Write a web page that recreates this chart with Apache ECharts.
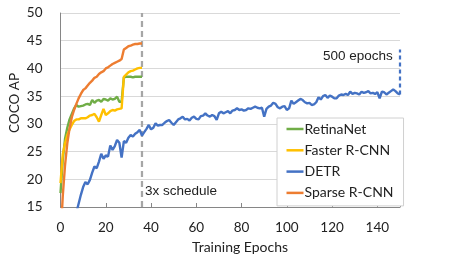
<!DOCTYPE html>
<html><head><meta charset="utf-8">
<script src="https://cdn.jsdelivr.net/npm/echarts@6/dist/echarts.min.js"></script>
<style>html,body{margin:0;padding:0;background:#fff}#c{width:457px;height:263px}</style>
</head><body><div id="c"></div>
<script>
// ---- data ----
const seriesNames = ['RetinaNet', 'Faster R-CNN', 'DETR', 'Sparse R-CNN'];
const shortEpochs = [0,1,2,3,4,5,6,7,8,9,10,11,12,13,14,15,16,17,18,19,20,21,22,23,24,25,26,27,28,29,30,31,32,33,34,35,36];
const retinaAP = [17.5,23.5,27.3,29.3,30.8,31.8,32.8,33.4,33.1,33.2,33.3,33.5,33.6,33.4,34.3,33.8,34.2,34.3,34.0,34.5,34.4,34.2,34.6,34.4,34.5,34.9,34.0,34.0,38.4,38.5,38.5,38.5,38.4,38.5,38.5,38.5,38.5];
const fasterAP = [19.3,24.5,26.5,28.0,29.0,29.8,30.5,30.8,30.8,31.0,31.0,31.0,31.2,31.5,31.6,31.8,31.2,30.4,31.6,32.7,31.6,31.9,32.3,32.5,32.4,32.6,32.7,32.8,38.5,38.9,39.3,39.5,39.6,39.8,40.0,40.1,40.1];
const sparseAP = [9.0,17.0,22.5,26.5,29.2,31.2,32.5,33.6,34.6,35.4,36.1,36.4,36.9,37.4,37.8,38.3,38.5,39.0,39.3,39.5,40.0,40.2,40.5,40.8,41.0,41.2,41.4,41.7,43.4,43.7,44.0,44.1,44.3,44.4,44.4,44.5,44.5];
const detrEpochs = [6,7,8,9,10,11,12,13,14,15,16,17,18,19,20,21,22,23,24,25,26,27,28,29,30,31,32,33,34,35,36,37,38,39,40,41,42,43,44,45,46,47,48,49,50,51,52,53,54,55,56,57,58,59,60,61,62,63,64,65,66,67,68,69,70,71,72,73,74,75,76,77,78,79,80,81,82,83,84,85,86,87,88,89,90,91,92,93,94,95,96,97,98,99,100,101,102,103,104,105,106,107,108,109,110,111,112,113,114,115,116,117,118,119,120,121,122,123,124,125,126,127,128,129,130,131,132,133,134,135,136,137,138,139,140,141,142,143,144,145,146,147,148,149,150];
const detrAP = [12.5,14.0,15.6,17.2,18.6,19.5,19.1,19.9,21.2,22.3,22.0,23.2,24.6,23.7,24.3,24.1,26.1,25.3,26.0,27.1,26.6,23.9,26.9,26.6,27.5,28.0,27.7,28.2,28.5,28.9,27.9,28.5,29.1,29.8,29.0,29.3,30.1,29.7,29.8,29.8,30.2,30.5,30.7,30.2,29.8,30.3,30.8,31.0,31.3,30.8,30.9,30.6,31.1,31.3,30.9,30.8,31.4,31.5,31.9,31.5,31.3,31.6,31.4,30.7,31.9,32.2,31.9,32.1,32.3,31.9,32.4,32.5,32.8,32.5,32.6,32.4,32.5,32.8,32.7,32.9,33.1,32.9,32.8,32.9,31.3,32.7,33.1,33.3,33.8,33.6,33.0,32.8,33.1,33.2,32.5,32.8,34.2,33.6,33.9,34.2,34.5,34.3,33.9,33.7,33.8,33.4,33.5,33.9,34.8,34.4,35.0,35.2,34.7,35.1,34.9,34.6,34.6,35.1,35.3,35.2,35.4,35.2,35.8,35.4,35.6,35.5,35.3,35.8,35.6,35.7,35.9,35.5,35.6,35.4,35.7,34.6,35.8,35.7,35.3,35.6,35.9,36.2,35.9,35.5,35.3];
const scheduleEpoch = 36;
const detr500Epoch = 150;
const detr500Range = [35.3, 43.4];
const yTicks = [15,20,25,30,35,40,45,50];
const xTicks = [0,20,40,60,80,100,120,140];

// ---- chart ----
const colors = {'RetinaNet':'#70AD47','Faster R-CNN':'#FFC000','DETR':'#4472C4','Sparse R-CNN':'#ED7D31'};
const zip = (xs, ys) => xs.map((x, i) => [x, ys[i]]);
const font = 'Lato';
const lineSeries = (name, xs, ys) => ({
  name, type: 'line', data: zip(xs, ys), symbol: 'none', clip: true,
  lineStyle: {color: colors[name], width: 2.4}, itemStyle: {color: colors[name]},
  emphasis: {disabled: true}, silent: true, animation: false
});
const chart = echarts.init(document.getElementById('c'), null, {renderer: 'canvas'});
chart.setOption({
  animation: false,
  backgroundColor: '#fff',
  grid: {left: 60.5, right: 57, top: 13, bottom: 56},
  xAxis: {
    type: 'value', min: 0, max: 150, interval: 20,
    axisLine: {show: true, lineStyle: {color: '#868686', width: 1}},
    axisTick: {show: true, inside: true, length: 4, lineStyle: {color: '#868686'}},
    axisLabel: {color: '#222', fontFamily: font, fontSize: 13.5, margin: 14,
      formatter: v => xTicks.includes(v) ? String(v) : ''},
    splitLine: {show: false}
  },
  yAxis: {
    type: 'value', min: 15, max: 50, interval: 5,
    axisLine: {show: true, lineStyle: {color: '#868686', width: 1}},
    axisTick: {show: false},
    axisLabel: {color: '#222', fontFamily: font, fontSize: 13.5, margin: 18,
      formatter: v => yTicks.includes(v) ? String(v) : ''},
    splitLine: {show: true, lineStyle: {color: '#d9d9d9', width: 1}}
  },
  legend: {
    data: seriesNames, orient: 'vertical', left: 277, top: 118,
    width: 123, itemWidth: 17, itemHeight: 2.5, icon: 'rect', itemGap: 5.3,
    padding: [3, 10, 5, 9.5], backgroundColor: '#fff', borderColor: '#d0d0d0', borderWidth: 1,
    textStyle: {color: '#222', fontFamily: font, fontSize: 14, lineHeight: 16, padding: [0,0,0,-4]}
  },
  graphic: [
    {type: 'text', left: 145, top: 184, style: {text: '3x schedule', font: '13.5px "Liberation Sans"', fill: '#222'}, silent: true},
    {type: 'text', left: 323, top: 49, style: {text: '500 epochs', font: '13.5px "Liberation Sans"', fill: '#222'}, silent: true},
    {type: 'text', x: 240, y: 247.5, style: {text: 'Training Epochs', font: '14px Lato', fill: '#222', align: 'center', verticalAlign: 'middle'}, silent: true},
    {type: 'text', x: 14.5, y: 103, rotation: Math.PI / 2, style: {text: 'COCO AP', font: '13.5px Lato', fill: '#222', align: 'center', verticalAlign: 'middle'}, silent: true}
  ],
  series: [
    {
      name: '3x', type: 'line', data: [[scheduleEpoch, 15], [scheduleEpoch, 50]], symbol: 'none',
      lineStyle: {color: '#A6A6A6', width: 2.25, type: [6, 4]}, silent: true, z: 1
    },
    {
      name: '500', type: 'line', data: [[detr500Epoch, detr500Range[0]], [detr500Epoch, detr500Range[1]]], symbol: 'none',
      lineStyle: {color: '#4472C4', width: 2.25, type: [4, 3]}, silent: true, z: 1
    },
    lineSeries('RetinaNet', shortEpochs, retinaAP),
    lineSeries('Faster R-CNN', shortEpochs, fasterAP),
    lineSeries('DETR', detrEpochs, detrAP),
    lineSeries('Sparse R-CNN', shortEpochs, sparseAP)
  ]
});
</script></body></html>
